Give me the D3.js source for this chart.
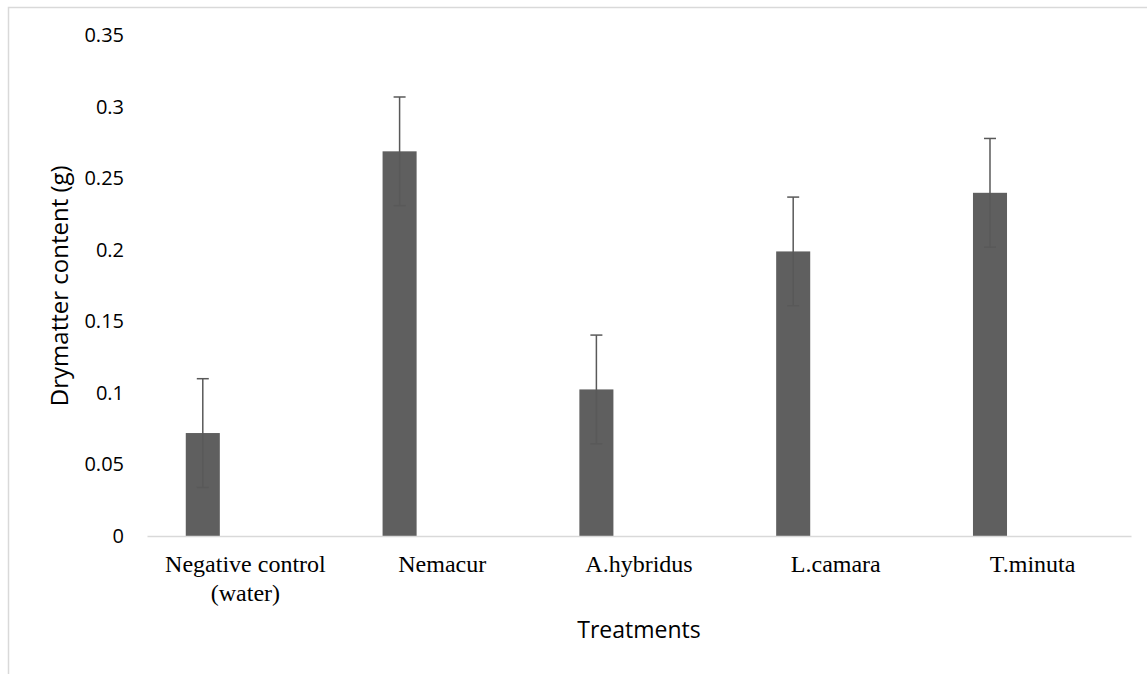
<!DOCTYPE html>
<html>
<head>
<meta charset="utf-8">
<script src="https://cdn.jsdelivr.net/npm/d3@7"></script>
<style>
  body { margin: 0; background: #fff; }
  svg { display: block; }
</style>
</head>
<body>
<div id="chart"></div>
<script>
// chart data
const treatments = ['Negative control\n(water)', 'Nemacur', 'A.hybridus', 'L.camara', 'T.minuta'];
const drymatter = [0.072, 0.269, 0.1025, 0.199, 0.240];
const stdErr = [0.038, 0.038, 0.038, 0.038, 0.038];
const yTicks = [0, 0.05, 0.1, 0.15, 0.2, 0.25, 0.3, 0.35];

const W = 1147, H = 674;
const margin = { top: 35.5, left: 147, right: 16, bottom: 138 };

const svg = d3.select('#chart')
  .append('svg')
  .attr('width', W)
  .attr('height', H);

// chart area border
svg.append('rect')
  .attr('x', 8.5).attr('y', 7.5)
  .attr('width', W + 20).attr('height', H + 20)
  .attr('fill', 'none')
  .attr('stroke', '#d9d9d9')
  .attr('stroke-width', 1.5);

const xScale = d3.scaleBand()
  .domain(treatments)
  .range([margin.left, W - margin.right])
  .padding(0);

const yScale = d3.scaleLinear()
  .domain([0, 0.35])
  .range([H - margin.bottom, margin.top]);

const bw = xScale.bandwidth();
const barOffset = bw * 0.197;
const barWidth = bw * 0.173;

// y axis (labels only)
const yAxis = svg.append('g')
  .attr('class', 'y-axis')
  .attr('transform', `translate(${margin.left - 23},0)`)
  .call(d3.axisLeft(yScale).tickValues(yTicks).tickSize(0).tickPadding(0).tickFormat(d => String(+d.toFixed(2))));
yAxis.select('.domain').remove();
yAxis.selectAll('text')
  .attr('font-family', "'Open Sans', sans-serif")
  .attr('font-size', 20)
  .attr('fill', '#000');

// bars
svg.selectAll('.bar')
  .data(treatments)
  .enter().append('rect')
  .attr('class', 'bar')
  .attr('x', d => xScale(d) + barOffset)
  .attr('y', (d, i) => yScale(drymatter[i]))
  .attr('width', barWidth)
  .attr('height', (d, i) => yScale(0) - yScale(drymatter[i]))
  .attr('fill', '#5f5f5f');

// error bars
const eb = svg.selectAll('.err')
  .data(treatments)
  .enter().append('g')
  .attr('class', 'err')
  .attr('stroke', '#595959')
  .attr('stroke-width', 1.5);
const cx = d => xScale(d) + barOffset + barWidth / 2;
eb.append('line')
  .attr('x1', cx).attr('x2', cx)
  .attr('y1', (d, i) => yScale(drymatter[i] + stdErr[i]))
  .attr('y2', (d, i) => yScale(drymatter[i] - stdErr[i]));
eb.append('line')
  .attr('x1', d => cx(d) - 6).attr('x2', d => cx(d) + 6)
  .attr('y1', (d, i) => yScale(drymatter[i] + stdErr[i]))
  .attr('y2', (d, i) => yScale(drymatter[i] + stdErr[i]));
eb.append('line')
  .attr('x1', d => cx(d) - 6).attr('x2', d => cx(d) + 6)
  .attr('y1', (d, i) => yScale(drymatter[i] - stdErr[i]))
  .attr('y2', (d, i) => yScale(drymatter[i] - stdErr[i]));

// x axis
const xAxis = svg.append('g')
  .attr('class', 'x-axis')
  .attr('transform', `translate(0,${yScale(0)})`)
  .call(d3.axisBottom(xScale).tickSize(0).tickPadding(0));
xAxis.select('.domain').attr('stroke', '#d9d9d9').attr('stroke-width', 1.5);
xAxis.selectAll('text').remove();
xAxis.selectAll('.tick').each(function(d) {
  const t = d3.select(this).append('text')
    .attr('text-anchor', 'middle')
    .attr('font-family', "'Liberation Serif', 'Times New Roman', serif")
    .attr('font-size', 24)
    .attr('fill', '#000');
  d.split('\n').forEach((line, j) => {
    t.append('tspan').attr('x', 0).attr('y', 36 + j * 29).text(line);
  });
});

// axis titles
svg.append('text')
  .attr('x', (margin.left + W - margin.right) / 2)
  .attr('y', 638)
  .attr('text-anchor', 'middle')
  .attr('font-family', "'Open Sans', sans-serif")
  .attr('font-size', 23)
  .attr('fill', '#000')
  .text('Treatments');

svg.append('text')
  .attr('transform', `translate(68,${(yScale(0) + yScale(0.35)) / 2}) rotate(-90)`)
  .attr('text-anchor', 'middle')
  .attr('font-family', "'Open Sans', sans-serif")
  .attr('font-size', 24)
  .attr('fill', '#000')
  .text('Drymatter content (g)');
</script>
</body>
</html>
